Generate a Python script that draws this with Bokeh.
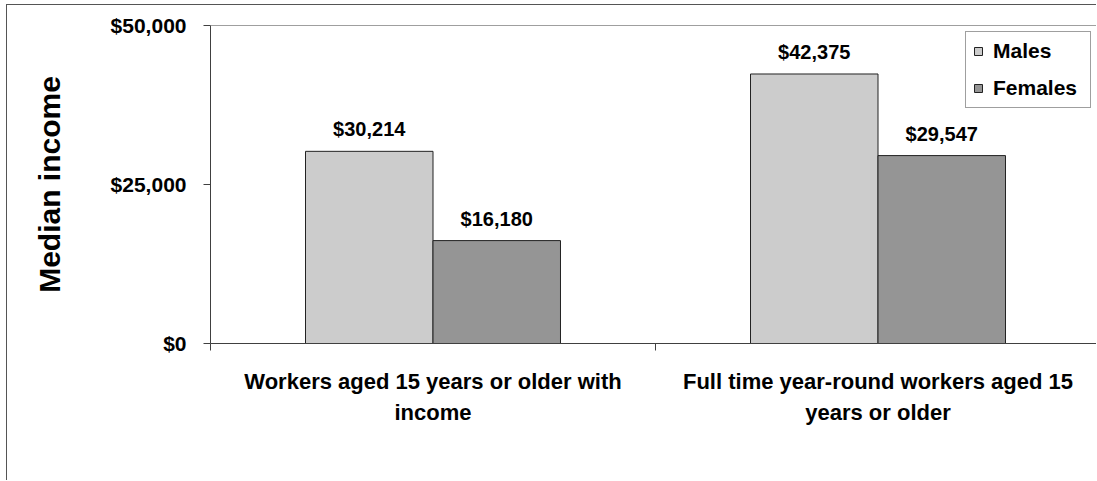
from bokeh.plotting import figure
from bokeh.models import (Range1d, FixedTicker, NumeralTickFormatter, ColumnDataSource,
                          LabelSet, Span, Legend, LegendItem)
from bokeh.core.properties import value
from bokeh.embed import file_html
from bokeh.resources import INLINE

# ---- data ----
categories = ["Workers aged 15 years or older with\nincome",
              "Full time year-round workers aged 15\nyears or older"]
series_names = ["Males", "Females"]
males = [30214, 42375]
females = [16180, 29547]
y_ticks = [0, 25000, 50000]

MALE_COLOR = "#cccccc"
FEMALE_COLOR = "#959595"
FONT = "Liberation Sans"
AX = "#404040"

# page offset of the chart box (outer border at x=6, y=4)
OX, OY = 7, 5
W, H = 1097 - OX, 481 - OY
FL, FT, FB = 210 - OX, 25 - OY, 343 - OY  # frame left/top/bottom in canvas px
cat_px = 445.0
x_end = (W - FL) / cat_px

p = figure(width=W, height=H, output_backend="svg", toolbar_location=None,
           x_range=Range1d(0, x_end), y_range=Range1d(0, 50000),
           min_border_left=FL, min_border_right=0, min_border_top=FT,
           min_border_bottom=H - FB)
p.margin = (OY - 1, 0, 0, OX - 1)
p.styles = {"border-left": "1px solid #555555", "border-top": "1px solid #555555"}
p.outline_line_color = None
p.grid.visible = False
p.background_fill_color = "white"
p.border_fill_color = "white"

bar_w = 0.2865
idx = list(range(len(categories)))
male_x = [i + 0.5 - bar_w / 2 for i in idx]
female_x = [i + 0.5 + bar_w / 2 for i in idx]

src_m = ColumnDataSource(dict(x=male_x, top=males, lab=[f"${v:,}" for v in males]))
src_f = ColumnDataSource(dict(x=female_x, top=females, lab=[f"${v:,}" for v in females]))

rm = p.vbar(x="x", top="top", width=bar_w, bottom=0, source=src_m,
            fill_color=MALE_COLOR, line_color="#222222", line_width=1)
rf = p.vbar(x="x", top="top", width=bar_w, bottom=0, source=src_f,
            fill_color=FEMALE_COLOR, line_color="#222222", line_width=1)

for s in (src_m, src_f):
    p.add_layout(LabelSet(x="x", y="top", text="lab", source=s, text_align="center",
                          text_baseline="alphabetic", y_offset=15,
                          text_font=value(FONT), text_font_style="bold",
                          text_font_size="20px", text_color="black"))

# top border line of plot area
p.add_layout(Span(location=50000, dimension="width", line_color=AX, line_width=1))

# y axis
ya = p.yaxis[0]
ya.ticker = FixedTicker(ticks=y_ticks, minor_ticks=[])
ya.formatter = NumeralTickFormatter(format="$0,0")
ya.axis_line_color = AX
ya.major_tick_line_color = AX
ya.major_tick_out = 7
ya.major_tick_in = 0
ya.minor_tick_line_color = None
ya.major_label_standoff = 17
ya.major_label_text_font = FONT
ya.major_label_text_font_style = "bold"
ya.major_label_text_font_size = "21px"
ya.major_label_text_color = "black"
ya.axis_label = "Median income"
ya.axis_label_text_font = FONT
ya.axis_label_text_font_style = "bold"
ya.axis_label_text_font_size = "30px"
ya.axis_label_text_color = "black"
ya.axis_label_standoff = 42

# x axis
xa = p.xaxis[0]
xa.ticker = FixedTicker(ticks=[i + 0.5 for i in idx], minor_ticks=[0, 1, 2])
xa.major_label_overrides = {i + 0.5: categories[i] for i in idx}
xa.axis_line_color = AX
xa.major_tick_line_color = None
xa.major_tick_out = 0
xa.major_tick_in = 0
xa.minor_tick_line_color = AX
xa.minor_tick_out = 7
xa.minor_tick_in = 0
xa.major_label_standoff = 18
xa.major_label_text_font = FONT
xa.major_label_text_font_style = "bold"
xa.major_label_text_font_size = "22px"
xa.major_label_text_color = "black"
xa.major_label_text_line_height = 1.25

# legend
legend = Legend(items=[LegendItem(label=series_names[0], renderers=[rm]),
                       LegendItem(label=series_names[1], renderers=[rf])],
                location="top_right")
legend.glyph_width = 10
legend.glyph_height = 10
legend.label_standoff = 10
legend.label_width = 90
legend.label_height = 21
legend.spacing = 13
legend.padding = 7
legend.margin = 6
legend.label_text_font = FONT
legend.label_text_font_style = "bold"
legend.label_text_font_size = "21px"
legend.label_text_color = "black"
legend.border_line_color = AX
legend.border_line_width = 1
legend.background_fill_color = "white"
legend.background_fill_alpha = 1
p.add_layout(legend)

open("out.html", "w").write(file_html(p, INLINE))
